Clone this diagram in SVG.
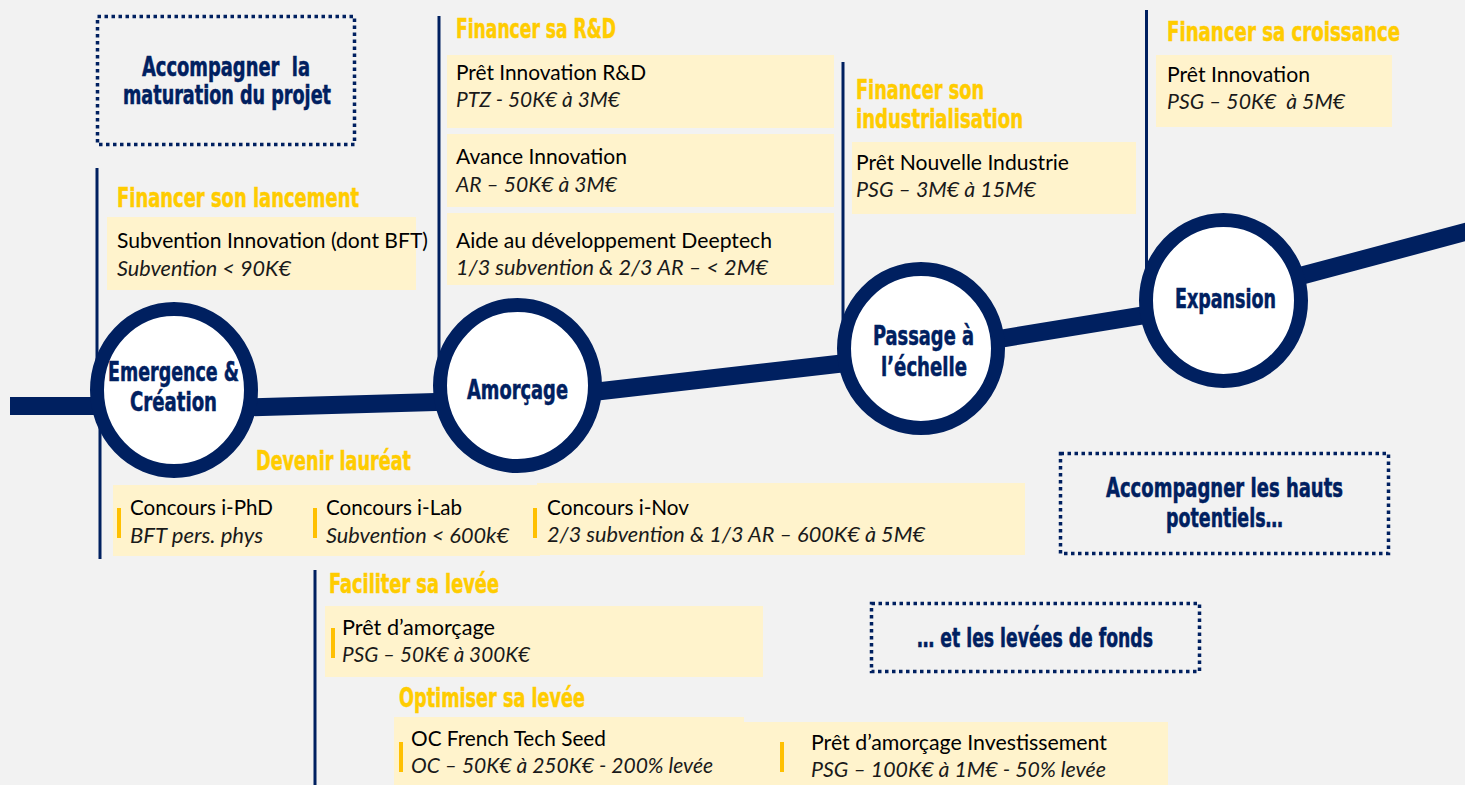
<svg xmlns="http://www.w3.org/2000/svg" width="1465" height="785" viewBox="0 0 1465 785">
<style>
.bg{fill:#f2f2f2}
.box{fill:#fff3cc}
.bar{fill:#ffc000}
.vl{stroke:#002060;stroke-width:3;fill:none}
.tl{stroke:#002060;stroke-width:18;fill:none}
.ring{fill:#fff;stroke:#002060;stroke-width:14}
.dot{fill:none;stroke:#002060;stroke-width:3.5;stroke-dasharray:3.5 3.5}
.h{font-family:'Liberation Sans Narrow','DejaVu Sans Condensed','Liberation Sans',sans-serif;font-weight:700;font-size:26px;stroke-width:0.5}
.hy{fill:#ffcc00;stroke:#ffcc00}
.hn{fill:#002060;stroke:#002060}
.t{font-family:Lato,'Liberation Sans',sans-serif;font-size:22px;fill:#000}
.i{font-style:italic;fill:#1a1a1a}
</style>
<rect class="bg" x="0" y="0" width="1465" height="785"/>

<g id="connectors">
  <line class="tl" x1="10" y1="406" x2="110" y2="406"/>
  <line class="tl" x1="238" y1="407.6" x2="453" y2="401.4"/>
  <line class="tl" x1="582" y1="393.3" x2="857" y2="361.7"/>
  <line class="tl" x1="985" y1="341.3" x2="1160" y2="312.7"/>
  <line class="tl" x1="1288" y1="279.3" x2="1470" y2="230.7"/>
  <line class="vl" x1="97" y1="168" x2="97" y2="390"/>
  <line class="vl" x1="100" y1="390" x2="100" y2="559"/>
  <line class="vl" x1="439" y1="16" x2="439" y2="380"/>
  <line class="vl" x1="843" y1="62" x2="843" y2="348"/>
  <line class="vl" x1="1146.5" y1="10" x2="1146.5" y2="300"/>
  <line class="vl" x1="315" y1="570" x2="315" y2="785"/>
</g>

<g id="stage-emergence">
  <ellipse class="ring" cx="174" cy="390" rx="77" ry="81"/>
  <text class="h hn" x="108" y="381" textLength="131" lengthAdjust="spacingAndGlyphs">Emergence &amp;</text>
  <text class="h hn" x="130" y="411" textLength="87" lengthAdjust="spacingAndGlyphs">Création</text>
</g>
<g id="stage-amorcage">
  <ellipse class="ring" cx="517.5" cy="385.5" rx="77.5" ry="80.5"/>
  <text class="h hn" x="467" y="399" textLength="101" lengthAdjust="spacingAndGlyphs">Amorçage</text>
</g>
<g id="stage-passage">
  <ellipse class="ring" cx="921" cy="348.5" rx="77" ry="79.5"/>
  <text class="h hn" x="873" y="345" textLength="101" lengthAdjust="spacingAndGlyphs">Passage à</text>
  <text class="h hn" x="881" y="376" textLength="86" lengthAdjust="spacingAndGlyphs">l’échelle</text>
</g>
<g id="stage-expansion">
  <ellipse class="ring" cx="1223.5" cy="300.5" rx="77.5" ry="80.5"/>
  <text class="h hn" x="1175" y="308" textLength="101" lengthAdjust="spacingAndGlyphs">Expansion</text>
</g>

<g id="note-maturation">
  <rect class="dot" x="97.5" y="16.5" width="257" height="128"/>
  <text class="h hn" x="142" y="76" textLength="168" lengthAdjust="spacingAndGlyphs" xml:space="preserve">Accompagner  la</text>
  <text class="h hn" x="123" y="104" textLength="208" lengthAdjust="spacingAndGlyphs">maturation du projet</text>
</g>
<g id="note-hauts-potentiels">
  <rect class="dot" x="1060.5" y="453.5" width="328" height="100"/>
  <text class="h hn" x="1106" y="497" textLength="237" lengthAdjust="spacingAndGlyphs">Accompagner les hauts</text>
  <text class="h hn" x="1166" y="527" textLength="117" lengthAdjust="spacingAndGlyphs">potentiels…</text>
</g>
<g id="note-levees">
  <rect class="dot" x="871.5" y="603.5" width="328" height="68"/>
  <text class="h hn" x="917" y="647" textLength="236" lengthAdjust="spacingAndGlyphs">… et les levées de fonds</text>
</g>

<g id="financer-lancement">
  <text class="h hy" x="117" y="207" textLength="242" lengthAdjust="spacingAndGlyphs">Financer son lancement</text>
  <rect class="box" x="107" y="217" width="309" height="73"/>
  <text class="t" x="117" y="248" textLength="311" lengthAdjust="spacingAndGlyphs">Subvention Innovation (dont BFT)</text>
  <text class="t i" x="117" y="276" textLength="174" lengthAdjust="spacingAndGlyphs">Subvention &lt; 90K€</text>
</g>

<g id="financer-rd">
  <text class="h hy" x="456" y="38" textLength="160" lengthAdjust="spacingAndGlyphs">Financer sa R&amp;D</text>
  <rect class="box" x="447" y="55" width="387" height="73"/>
  <text class="t" x="456" y="80" textLength="190" lengthAdjust="spacingAndGlyphs">Prêt Innovation R&amp;D</text>
  <text class="t i" x="456" y="107" textLength="164" lengthAdjust="spacingAndGlyphs">PTZ - 50K€ à 3M€</text>
  <rect class="box" x="447" y="134" width="387" height="73"/>
  <text class="t" x="456" y="164" textLength="171" lengthAdjust="spacingAndGlyphs">Avance Innovation</text>
  <text class="t i" x="456" y="192" textLength="161" lengthAdjust="spacingAndGlyphs">AR – 50K€ à 3M€</text>
  <rect class="box" x="447" y="213" width="387" height="72"/>
  <text class="t" x="456" y="248" textLength="316" lengthAdjust="spacingAndGlyphs">Aide au développement Deeptech</text>
  <text class="t i" x="456" y="275" textLength="312" lengthAdjust="spacingAndGlyphs">1/3 subvention &amp; 2/3 AR – &lt; 2M€</text>
</g>

<g id="financer-industrialisation">
  <text class="h hy" x="856" y="99" textLength="128" lengthAdjust="spacingAndGlyphs">Financer son</text>
  <text class="h hy" x="856" y="128" textLength="167" lengthAdjust="spacingAndGlyphs">industrialisation</text>
  <rect class="box" x="852" y="142" width="284" height="72"/>
  <text class="t" x="856" y="170" textLength="213" lengthAdjust="spacingAndGlyphs">Prêt Nouvelle Industrie</text>
  <text class="t i" x="856" y="197" textLength="180" lengthAdjust="spacingAndGlyphs">PSG – 3M€ à 15M€</text>
</g>

<g id="financer-croissance">
  <text class="h hy" x="1167" y="41" textLength="233" lengthAdjust="spacingAndGlyphs">Financer sa croissance</text>
  <rect class="box" x="1156" y="55" width="236" height="72"/>
  <text class="t" x="1167" y="82" textLength="143" lengthAdjust="spacingAndGlyphs">Prêt Innovation</text>
  <text class="t i" x="1167" y="109" textLength="178" lengthAdjust="spacingAndGlyphs" xml:space="preserve">PSG – 50K€  à 5M€</text>
</g>

<g id="devenir-laureat">
  <text class="h hy" x="256" y="470" textLength="155" lengthAdjust="spacingAndGlyphs">Devenir lauréat</text>
  <rect class="box" x="113" y="485" width="427" height="71"/>
  <rect class="box" x="537" y="483" width="488" height="72"/>
  <rect class="bar" x="117" y="508" width="4" height="30"/>
  <text class="t" x="130" y="515" textLength="143" lengthAdjust="spacingAndGlyphs">Concours i-PhD</text>
  <text class="t i" x="130" y="543" textLength="133" lengthAdjust="spacingAndGlyphs">BFT pers. phys</text>
  <rect class="bar" x="313" y="508" width="4" height="30"/>
  <text class="t" x="326" y="515" textLength="136" lengthAdjust="spacingAndGlyphs">Concours i-Lab</text>
  <text class="t i" x="326" y="543" textLength="183" lengthAdjust="spacingAndGlyphs">Subvention &lt; 600k€</text>
  <rect class="bar" x="533" y="508" width="4" height="30"/>
  <text class="t" x="547" y="515" textLength="142" lengthAdjust="spacingAndGlyphs">Concours i-Nov</text>
  <text class="t i" x="547" y="542" textLength="378" lengthAdjust="spacingAndGlyphs">2/3 subvention &amp; 1/3 AR – 600K€ à 5M€</text>
</g>

<g id="faciliter-levee">
  <text class="h hy" x="329" y="593" textLength="170" lengthAdjust="spacingAndGlyphs">Faciliter sa levée</text>
  <rect class="box" x="325" y="606" width="438" height="71"/>
  <rect class="bar" x="331" y="628" width="4" height="30"/>
  <text class="t" x="342" y="635" textLength="153" lengthAdjust="spacingAndGlyphs">Prêt d’amorçage</text>
  <text class="t i" x="342" y="662" textLength="188" lengthAdjust="spacingAndGlyphs">PSG – 50K€ à 300K€</text>
</g>

<g id="optimiser-levee">
  <text class="h hy" x="399" y="707" textLength="186" lengthAdjust="spacingAndGlyphs">Optimiser sa levée</text>
  <rect class="box" x="394" y="717" width="350" height="68"/>
  <rect class="box" x="744" y="722" width="424" height="63"/>
  <rect class="bar" x="399" y="742" width="4" height="30"/>
  <text class="t" x="411" y="746" textLength="195" lengthAdjust="spacingAndGlyphs">OC French Tech Seed</text>
  <text class="t i" x="411" y="773" textLength="302" lengthAdjust="spacingAndGlyphs">OC – 50K€ à 250K€ - 200% levée</text>
  <rect class="bar" x="780" y="742" width="4" height="30"/>
  <text class="t" x="811" y="750" textLength="296" lengthAdjust="spacingAndGlyphs">Prêt d’amorçage Investissement</text>
  <text class="t i" x="811" y="777" textLength="295" lengthAdjust="spacingAndGlyphs">PSG – 100K€ à 1M€ - 50% levée</text>
</g>
</svg>
